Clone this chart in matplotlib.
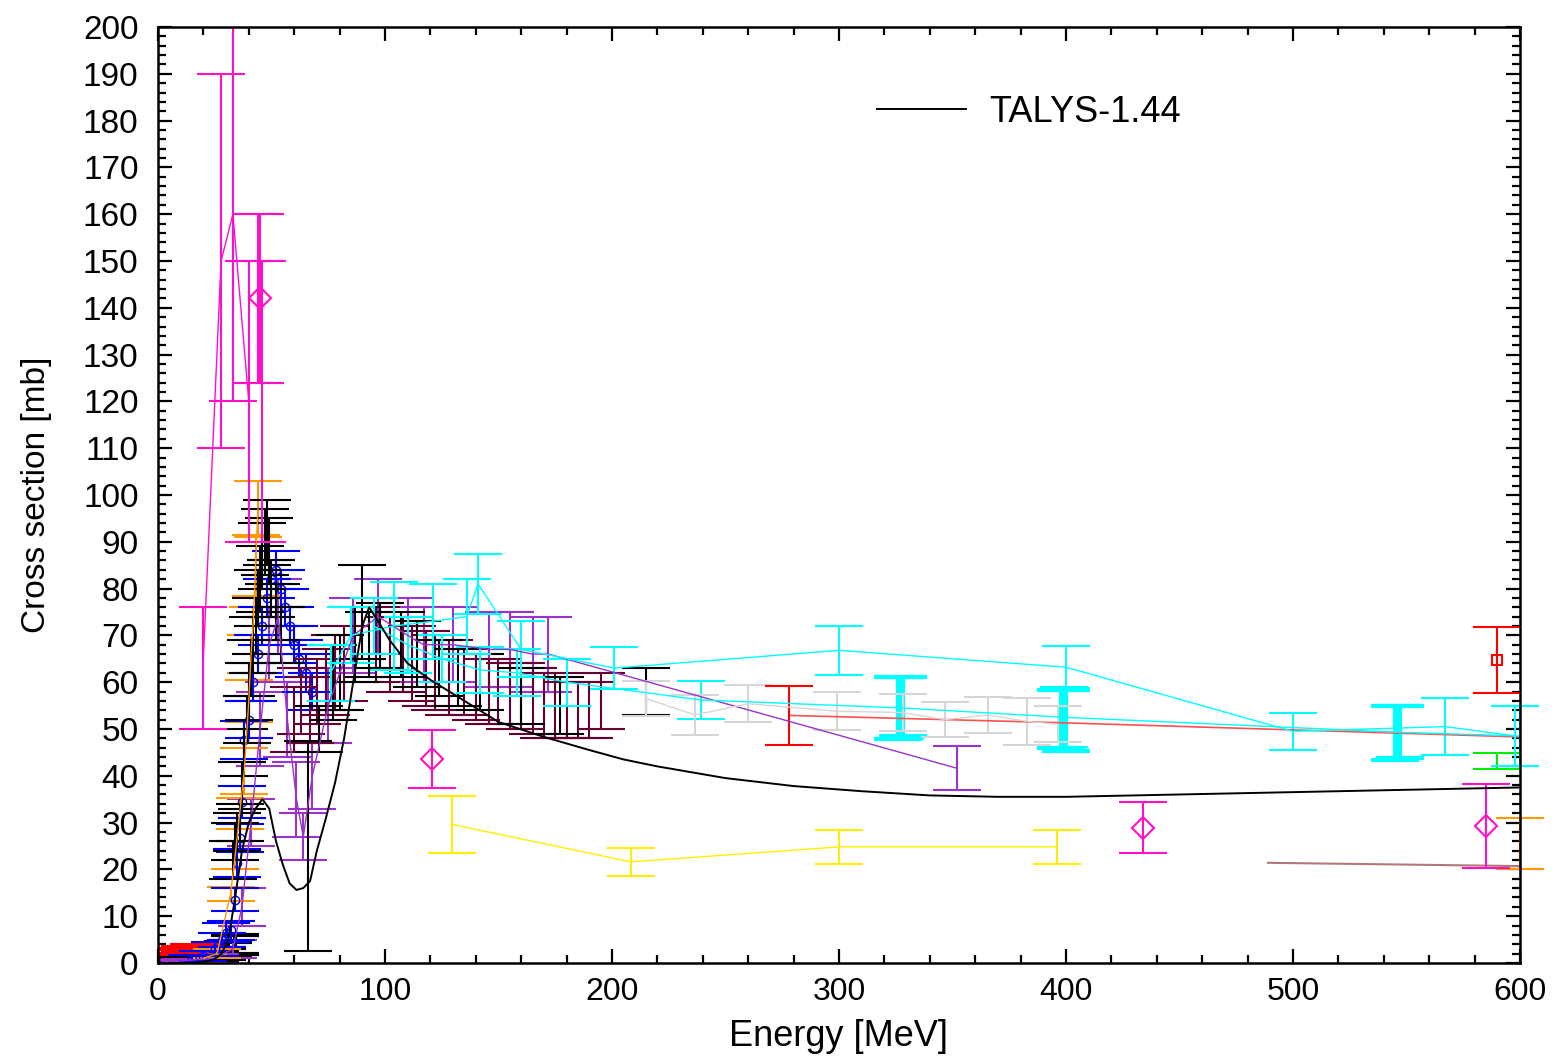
import numpy as np
import matplotlib.pyplot as plt
from matplotlib.ticker import MultipleLocator

plt.rcParams['font.family'] = ['Liberation Sans', 'DejaVu Sans']

# TALYS-1.44 model curve
talys_E = [5, 10, 15, 20, 25, 28, 31, 34, 37, 40, 43, 46, 49, 52, 55, 58, 61, 64, 67, 70, 74, 78,
           82, 86, 90, 93, 97, 102, 110, 120, 135, 150, 170, 190, 205, 220, 250, 280, 310, 340,
           370, 400, 450, 500, 550, 600]
talys_y = [0, 0, 0, 0.2, 0.8, 2, 5, 14, 24, 30, 33, 35, 33, 26, 21, 17, 15.6, 16, 17.5, 24, 31, 38.5,
           48, 60, 72, 76, 73, 69, 64, 60.5, 56, 51.5, 48.3, 45.5, 43.5, 42, 39.5, 37.8, 36.7, 35.8,
           35.5, 35.5, 36, 36.5, 37, 37.5]

# experimental sets
mag_E = [19.8, 27.8, 33, 40]
mag_y = [63, 150, 160, 120]
mag_err = [13, 40, 40, 30]

magd_E = [45, 120.7, 434, 585]
magd_y = [142, 43.6, 28.9, 29.2]
magd_err = [18, 6.2, 5.4, 9]

mag2_E = [44, 46]
mag2_y = [142, 120]
mag2_err = [18, 30]

blk_E = [33, 34, 35, 36, 37, 38, 39, 40, 41, 42, 43, 44, 45, 46, 47, 48, 49, 50, 52, 54]
blk_y = [22, 26, 28, 30, 38, 45, 52, 58, 63, 68, 72, 78, 82, 87, 90, 92, 88, 80, 75, 70]
blk_err = [4, 4, 4, 4, 5, 5, 5, 6, 6, 6, 6, 6, 7, 7, 7, 7, 7, 6, 6, 6]

blk0_E = [5, 10, 15, 20, 25, 28, 31, 34]
blk0_y = [0.3, 0.5, 0.8, 1, 1.5, 2, 3, 4]
blk0_err = [0.5, 0.6, 0.8, 1, 1, 1.2, 1.5, 2]

blk2_E = [66, 71, 77, 80, 87, 90, 93, 98, 107, 114, 124, 132, 142, 160, 177, 215]
blk2_y = [25, 50, 60, 62, 68, 75, 68, 70, 68, 66, 63, 61, 60, 57, 55, 58]
blk2_err = [22.4, 5, 8, 8, 8, 10, 7, 7, 7, 7, 6, 6, 6, 6, 6, 5]

blue_E = [15, 20, 25, 28, 30, 32, 34, 35, 36, 37, 38, 40, 42, 44, 46, 48, 50, 52, 54, 56, 58, 60, 62, 65, 68]
blue_y = [0.8, 1.5, 3, 5, 6.5, 7, 13.5, 21.4, 26.7, 34.4, 47.6, 52, 60, 66, 72, 78, 82, 84, 80, 76, 72,
          68, 65, 62, 58]
blue_err = [1, 1, 1.5, 1.5, 2, 2, 2.5, 3, 3, 3.5, 4, 4, 4, 4, 4, 4, 4, 4, 4, 4, 4, 4, 4, 4, 4]

orange_E = [20, 26, 32, 34, 36, 38, 40, 41, 42, 43, 44]
orange_y = [1, 2, 14.8, 23, 32, 41, 56, 66, 73, 85, 97]
orange_err = [0.8, 1, 1.5, 3, 3.3, 5, 4.5, 4, 3, 6.5, 6]
orange_hi_E = [600]
orange_hi_y = [25.5]
orange_hi_err = [5.5]

purple_E = [5, 12, 25, 33, 37, 41, 45, 49, 53, 57, 61, 64, 68, 75, 86, 97, 110, 117, 130, 146, 155,
            165, 172, 352]
purple_y = [0.3, 0.5, 1, 3, 12, 30, 50, 68, 74, 52, 35, 27, 40, 55, 70, 74, 70, 68, 68, 67, 67,
            66, 66, 41.6]
purple_err = [0.3, 0.4, 1, 2, 4, 5, 8, 8, 8, 8, 8, 5, 7, 8, 8, 8, 8, 8, 8, 8, 8, 8, 8, 4.7]

maroon_E = [60, 63, 67, 70, 74, 78, 82, 96, 102, 108, 112, 118, 122, 128, 135, 140, 146, 150, 155,
            160, 165, 170, 175, 180, 185, 190, 195]
maroon_y = [52, 56, 54, 58, 60, 62, 64, 68, 66, 66, 64, 63, 62, 61, 60, 59, 58, 58, 57, 57, 56, 55,
            55, 54, 54, 54, 56]
maroon_err = [7, 7, 7, 7, 7, 8, 8, 8, 8, 8, 8, 8, 8, 8, 7, 7, 7, 7, 7, 7, 7, 7, 7, 6, 6, 6, 6]

cyanA_E = [76, 85, 104, 121, 136, 141, 160, 201, 300, 400, 500, 567, 598]
cyanA_y = [62, 70, 72, 73, 74, 81, 67, 63, 66.8, 63.2, 49.5, 50.5, 48.5]
cyanA_err = [6, 6, 9.4, 8, 8, 6.4, 6, 4.5, 5.2, 4.5, 3.9, 6.1, 6.5]

cyanB_E = [95, 110, 125, 142, 158, 180, 239, 327, 399, 546, 600]
cyanB_y = [72, 68, 65, 62.6, 62, 60, 56.2, 54.5, 52.5, 49.3, 48.5]
cyanB_err = [6, 6, 5, 5, 5, 5, 4, 6.6, 6.4, 5.8, 6.5]

cyanC_E = [326, 328, 398, 400, 545, 547]
cyanC_y = [54.5, 54.8, 52.2, 51.8, 49.2, 49.4]
cyanC_err = [6.6, 6.2, 6.2, 6.6, 5.8, 5.6]

gray_E = [215, 236.6, 260, 299, 328, 346.7, 365.7, 383, 396.5]
gray_y = [56.5, 53, 55.4, 53.8, 53.5, 52, 53, 51.6, 51]
gray_err = [3.7, 4.2, 4, 4, 4, 3.8, 3.9, 5, 3.8]

red0_E = [8, 12, 16, 20]
red0_y = [2.5, 3, 3.4, 3.2]
red0_err = [0.5, 0.5, 0.5, 0.5]

red_E = [278, 400, 500, 600]
red_y = [52.9, 51.3, 49.8, 48.3]
red_pt_err = 6.3

redsq_E = [589.9]
redsq_y = [64.7]
redsq_err = [7]

green_E = [590]
green_y = [43.2]
green_err = [1.7]

yellow_E = [129.5, 208.4, 300, 396]
yellow_y = [29.6, 21.6, 24.8, 24.8]
yellow_err = [6.1, 3, 3.6, 3.6]

brown_E = [489, 600]
brown_y = [21.4, 20.7]

fig = plt.figure(figsize=(15.58, 10.59), dpi=100)
ax = fig.add_axes([0.1014, 0.0907, 0.8742, 0.8838])

cap = 17
ew = 1.5


def eb(x, y, e, color, fmt='none', lw=1.0, ms=0, mk=None, clip=True, elw=ew):
    kw = dict(yerr=e, color=color, ecolor=color, capsize=cap, elinewidth=elw, capthick=elw)
    if fmt == 'none':
        c = ax.errorbar(x, y, fmt='none', **kw)
    else:
        c = ax.errorbar(x, y, fmt=fmt, lw=lw, marker=mk, ms=ms, mfc='none', mew=1.5, **kw)
    if not clip:
        for art in c.get_children():
            art.set_clip_on(False)
    return c


eb(blk0_E, blk0_y, blk0_err, 'black', fmt='none', elw=3)
eb(purple_E, purple_y, purple_err, '#9933cc', fmt='-')
eb(red0_E, red0_y, red0_err, 'red', fmt='none', elw=3)
eb(orange_E, orange_y, orange_err, '#ff9900', fmt='-')
eb(blue_E, blue_y, blue_err, 'blue', fmt='none')
ax.plot(blue_E, blue_y, 'o', color='blue', mfc='none', ms=6, lw=0)
eb(blk_E, blk_y, blk_err, 'black', fmt='none')
eb(maroon_E, maroon_y, maroon_err, '#660033', fmt='none')
eb(blk2_E, blk2_y, blk2_err, 'black', fmt='none')
eb(cyanA_E, cyanA_y, cyanA_err, 'cyan', fmt='-')
eb(cyanB_E, cyanB_y, cyanB_err, 'cyan', fmt='-')
eb(cyanC_E, cyanC_y, cyanC_err, 'cyan', fmt='none', elw=3)
eb(gray_E, gray_y, gray_err, '#d6d6d6', fmt='-')
ax.plot(red_E, red_y, '-', color='#ff5050', lw=1.2)
eb(red_E[:1], red_y[:1], [red_pt_err], 'red', fmt='none')
eb(redsq_E, redsq_y, redsq_err, 'red', fmt='s', ms=7, mk='s')
eb(green_E, green_y, green_err, '#00ee00', fmt='none', clip=False)
eb(yellow_E, yellow_y, yellow_err, '#ffee00', fmt='-')
ax.plot(brown_E, brown_y, '-', color='#b07878', lw=1.5)
eb(orange_hi_E, orange_hi_y, orange_hi_err, '#ff9900', fmt='none', clip=False)
eb(mag_E, mag_y, mag_err, '#ff10c8', fmt='-')
eb(mag2_E, mag2_y, mag2_err, '#ff10c8', fmt='none')
eb(magd_E, magd_y, magd_err, '#ff10c8', fmt='D', mk='D', ms=11)
eb([598], [48.5], [6.5], 'cyan', fmt='none', clip=False)

ax.plot(talys_E, talys_y, '-', color='black', lw=1.4, label='TALYS-1.44', zorder=5)

ax.set_xlim(0, 600)
ax.set_ylim(0, 200)
ax.xaxis.set_major_locator(MultipleLocator(100))
ax.xaxis.set_minor_locator(MultipleLocator(20))
ax.yaxis.set_major_locator(MultipleLocator(10))
ax.yaxis.set_minor_locator(MultipleLocator(2))
ax.tick_params(which='both', direction='in', top=True, right=True, width=1.6)
ax.tick_params(which='major', length=10, labelsize=23)
ax.tick_params(which='minor', length=6)
ax.tick_params(axis='x', pad=10)
ax.tick_params(axis='y', pad=14, labelsize=24)
for s in ax.spines.values():
    s.set_linewidth(1.8)

ax.set_xlabel('Energy [MeV]', fontsize=26, labelpad=9)
ax.set_ylabel('Cross section [mb]', fontsize=24, labelpad=22)

ax.legend(loc='center left', bbox_to_anchor=(0.528, 0.909), frameon=False, fontsize=26,
          handlelength=2.45, handletextpad=0.65, borderpad=0, borderaxespad=0)

fig.savefig('out.png', dpi=100)
